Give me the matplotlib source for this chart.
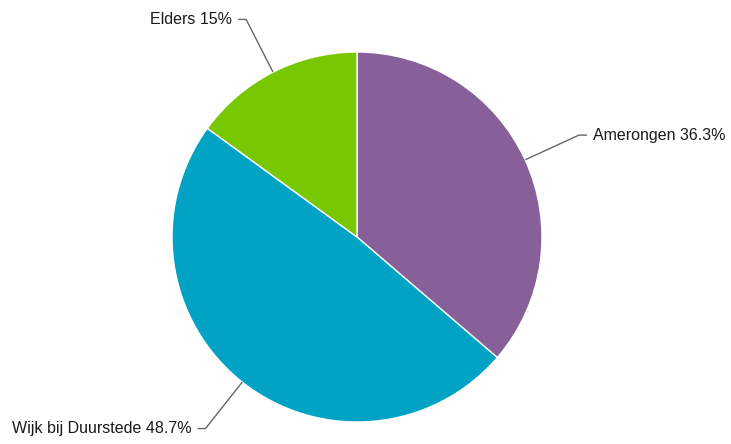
import numpy as np
import matplotlib.pyplot as plt

labels = ["Amerongen", "Wijk bij Duurstede", "Elders"]
values = [36.3, 48.7, 15.0]
value_text = ["36.3%", "48.7%", "15%"]
colors = ["#87609a", "#00a3c4", "#77c800"]

W, H = 731, 444
CX, CY, R = 357, H - 237, 185

fig = plt.figure(figsize=(W / 100, H / 100), dpi=100)
ax = fig.add_axes([0, 0, 1, 1])
wedges, _ = ax.pie(values, colors=colors, startangle=90, counterclock=False,
                   center=(CX, CY), radius=R,
                   wedgeprops=dict(edgecolor="white", linewidth=1))
ax.set_xlim(0, W)
ax.set_ylim(0, H)
ax.set_aspect("equal")
ax.axis("off")

for w, lab, vt in zip(wedges, labels, value_text):
    ang = np.deg2rad((w.theta1 + w.theta2) / 2)
    x0, y0 = CX + R * np.cos(ang), CY + R * np.sin(ang)
    x1, y1 = CX + 1.32 * R * np.cos(ang), CY + 1.32 * R * np.sin(ang)
    side = 1 if np.cos(ang) >= 0 else -1
    x2 = x1 + side * 8
    ax.plot([x0, x1, x2], [y0, y1, y1], color="#666666", lw=1, solid_capstyle="butt")
    ax.text(x2 + side * 6, y1, f"{lab} {vt}", ha="left" if side > 0 else "right",
            va="center", fontsize=11.5, family="Liberation Sans", color="#1a1a1a")

fig.savefig("out.png", dpi=100)
